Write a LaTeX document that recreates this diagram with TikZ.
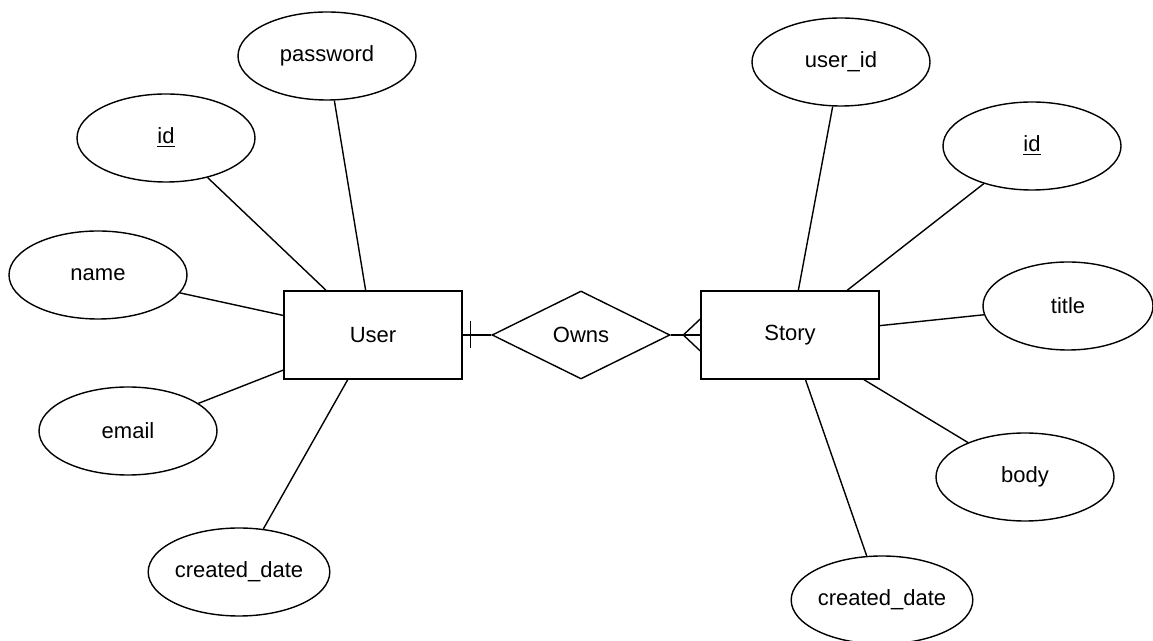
\documentclass[tikz,border=0pt]{standalone}
\usepackage{fontspec}
\setmainfont{Liberation Sans}
\usetikzlibrary{shapes.geometric}

\tikzset{
  er/.style={draw=black, line width=0.7pt, inner sep=0pt,
    font=\fontsize{11}{13}\selectfont},
  attr/.style={er, ellipse, minimum width=89pt, minimum height=44pt},
  entity/.style={er, rectangle, minimum width=89pt, minimum height=44pt},
  relation/.style={er, diamond, minimum width=89pt, minimum height=44pt},
  link/.style={draw=black, line width=0.7pt}
}

\begin{document}
\begin{tikzpicture}[x=0.5pt, y=-0.5pt]
  \useasboundingbox (0,0) rectangle (1153,641);

  % entities and relationship
  \node[entity]   (user)  at (373,335) {User};
  \node[relation] (owns)  at (581,335) {Owns};
  \node[entity]   (story) at (790,335) {Story};

  % User attributes
  \node[attr] (uid)    at (166,138) {\underline{id}};
  \node[attr] (upass)  at (327,56)  {password};
  \node[attr] (uname)  at (98,275)  {name};
  \node[attr] (umail)  at (128,431) {email};
  \node[attr] (udate)  at (239,572) {created\_date};

  % Story attributes
  \node[attr] (suser)  at (841,62)  {user\_id};
  \node[attr] (sid)    at (1032,146) {\underline{id}};
  \node[attr, minimum width=85pt] (stitle) at (1068,306) {title};
  \node[attr] (sbody)  at (1025,477) {body};
  \node[attr] (sdate)  at (882,600) {created\_date};

  % attribute links
  \foreach \a in {uid, upass, uname, umail, udate}
    \draw[link] (\a) -- (user);
  \foreach \a in {suser, sid, stitle, sbody, sdate}
    \draw[link] (\a) -- (story);

  % relationship: one User owns many Stories
  \draw[link] (user.east) -- (owns.west);
  \draw[link] ([xshift=4pt,yshift=-6.75pt]user.east) -- ([xshift=4pt,yshift=6.75pt]user.east);
  \draw[link] (owns.east) -- (story.west);
  \draw[link] ([yshift=8pt]story.west) -- ([xshift=-8.5pt]story.west) -- ([yshift=-8pt]story.west);
\end{tikzpicture}
\end{document}
